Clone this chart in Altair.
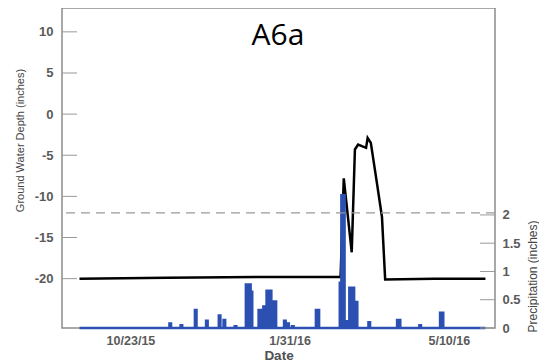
import altair as alt
import pandas as pd

# Ground water depth (inches)
gw_dates = ["2015-09-21", "2015-11-15", "2016-01-15", "2016-03-02", "2016-03-03",
            "2016-03-05", "2016-03-08", "2016-03-10", "2016-03-12", "2016-03-14",
            "2016-03-19", "2016-03-20", "2016-03-22", "2016-03-26", "2016-03-29",
            "2016-03-31", "2016-05-01", "2016-06-02"]
gw_depth = [-20.0, -19.9, -19.8, -19.8, -19.8,
            -7.8, -13.2, -16.8, -4.3, -3.7,
            -4.1, -2.9, -3.5, -8.6, -12.5,
            -20.1, -20.0, -20.0]

# Daily precipitation (inches), days not listed are 0
rain_dates = ["2015-11-17", "2015-11-24", "2015-12-03", "2015-12-10", "2015-12-18",
              "2015-12-21", "2015-12-28",
              "2016-01-04", "2016-01-05", "2016-01-06", "2016-01-07",
              "2016-01-12", "2016-01-13", "2016-01-14", "2016-01-15", "2016-01-16",
              "2016-01-17", "2016-01-18", "2016-01-19", "2016-01-20", "2016-01-21",
              "2016-01-22", "2016-01-28", "2016-01-30", "2016-02-02",
              "2016-02-17", "2016-02-18",
              "2016-03-03", "2016-03-04", "2016-03-05", "2016-03-06", "2016-03-07",
              "2016-03-08", "2016-03-09", "2016-03-10", "2016-03-11", "2016-03-13",
              "2016-03-21", "2016-04-08", "2016-04-09", "2016-04-22",
              "2016-05-05", "2016-05-06"]
rain_inches = [0.08, 0.05, 0.32, 0.13, 0.22,
               0.14, 0.03,
               0.77, 0.77, 0.77, 0.64,
               0.32, 0.32, 0.32, 0.38, 0.38,
               0.66, 0.66, 0.66, 0.47, 0.47,
               0.47, 0.13, 0.08, 0.03,
               0.32, 0.32,
               0.80, 2.35, 2.35, 0.12, 0.12,
               0.12, 0.71, 0.71, 0.71, 0.46,
               0.10, 0.14, 0.14, 0.05,
               0.27, 0.27]
series_start = "2015-09-21"
series_end = "2016-06-02"

left_ticks = [10, 5, 0, -5, -10, -15, -20]
right_ticks = [0, 0.5, 1, 1.5, 2]
threshold = [-12]
chart_label = ["A6a"]

BLUE = "#2b50b2"
GRAY = "#999999"
LABEL = "#5a5a5a"
TITLE = "#444444"
FONT = "Liberation Sans"

gw_df = pd.DataFrame({"date": gw_dates, "depth": gw_depth})
days = pd.date_range(series_start, series_end, freq="D")
rain = pd.Series(0.0, index=days)
for d, v in zip(rain_dates, rain_inches):
    rain[pd.Timestamp(d)] = v
rain_df = pd.DataFrame({"date": days.strftime("%Y-%m-%d"), "precip": rain.values})

W, H = 433, 320

xscale = alt.Scale(domain=[alt.DateTime(year=2015, month=9, date=10),
                           alt.DateTime(year=2016, month=6, date=8)])
xaxis = alt.Axis(
    values=[alt.DateTime(year=2015, month=10, date=23),
            alt.DateTime(year=2016, month=1, date=31),
            alt.DateTime(year=2016, month=5, date=10)],
    format="%-m/%-d/%y", title="Date", ticks=False, domain=False, grid=False,
    labelPadding=6, labelFontSize=12.5, labelColor=LABEL, labelFont=FONT,
    labelFontWeight="bold",
    titleFontSize=13.5, titleColor="#505050", titleFont=FONT, titleFontWeight="bold",
    titleY=27, titleBaseline="middle",
)
x_enc = alt.X("date:T", scale=xscale, axis=xaxis)

gw_scale = alt.Scale(domain=[-26, 12.9], nice=False, zero=False)
p_scale = alt.Scale(domain=[0, 5.66], nice=False)

# right-hand (precipitation) layers
precip = alt.Chart(rain_df).mark_area(
    interpolate="step", color=BLUE, stroke=BLUE, strokeWidth=2.5).encode(
    x=x_enc,
    y=alt.Y("precip:Q", scale=p_scale, axis=alt.Axis(
        orient="right", values=right_ticks, labelExpr="'' + datum.value",
        ticks=False, domain=False, grid=False, labelPadding=7,
        labelFontSize=13, labelColor=LABEL, labelFont=FONT, labelFontWeight="bold",
        title="Precipitation (inches)", titleFontSize=12, titleFont=FONT,
        titleColor=TITLE, titleFontWeight="normal",
        titleX=37, titleY=268, titleAngle=-90, titleAlign="center",
        titleBaseline="middle")),
)

rticks = alt.Chart(pd.DataFrame({"p": right_ticks})).mark_rule(
    color=GRAY, strokeWidth=1).encode(
    x=alt.value(W - 15), x2=alt.value(W),
    y=alt.Y("p:Q", scale=p_scale, axis=None))

# left-hand (ground water) layers
gw_line = alt.Chart(gw_df).mark_line(color="black", strokeWidth=2.5).encode(
    x=x_enc,
    y=alt.Y("depth:Q", scale=gw_scale, axis=alt.Axis(
        orient="left", values=left_ticks, labelExpr="'' + datum.value",
        ticks=False, domain=False, grid=False, labelPadding=9,
        labelFontSize=13, labelColor=LABEL, labelFont=FONT, labelFontWeight="bold",
        title="Ground Water Depth (inches)", titleFontSize=11, titleFont=FONT,
        titleColor=TITLE, titleFontWeight="normal",
        titleX=-42, titleY=132, titleAngle=-90, titleAlign="center",
        titleBaseline="middle")),
)

dash = alt.Chart(pd.DataFrame({"v": threshold})).mark_rule(
    color=GRAY, strokeWidth=1.2, strokeDash=[9, 6]).encode(
    y=alt.Y("v:Q", scale=gw_scale, axis=None))

lticks = alt.Chart(pd.DataFrame({"v": left_ticks})).mark_rule(
    color=GRAY, strokeWidth=1).encode(
    x=alt.value(0), x2=alt.value(15),
    y=alt.Y("v:Q", scale=gw_scale, axis=None))

label = alt.Chart(pd.DataFrame({"t": chart_label})).mark_text(
    font="Open Sans", fontSize=30, color="black", align="center",
    baseline="alphabetic").encode(
    text="t:N", x=alt.value(216), y=alt.value(37))

chart = alt.layer(gw_line, precip, dash, lticks, rticks, label).resolve_scale(
    y="independent").properties(
    width=W, height=H,
    autosize=alt.AutoSizeParams(type="none"),
    padding={"left": 54, "top": 0, "right": 44, "bottom": 40},
).configure_view(stroke="#8c8c8c", strokeWidth=1.5)

chart.save("out.html", embed_options={"renderer": "svg", "actions": False})
